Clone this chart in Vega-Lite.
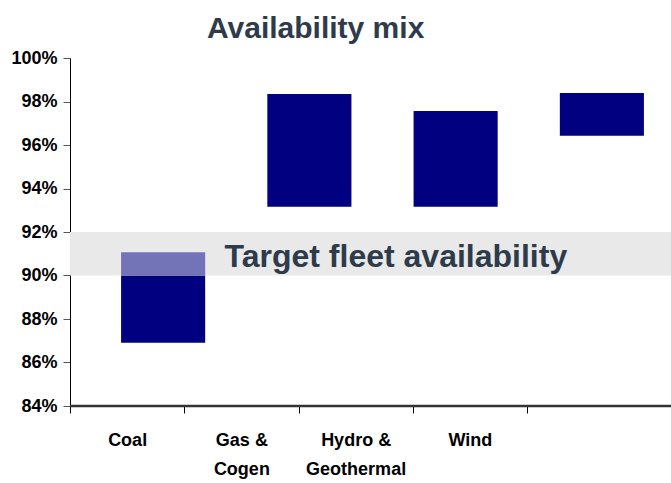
{
  "$schema": "https://vega.github.io/schema/vega-lite/v6.json",
  "width": 601,
  "height": 348,
  "autosize": "none",
  "padding": {"left": 70, "top": 58, "right": 0, "bottom": 77},
  "background": "white",
  "config": {"view": {"stroke": null}, "font": "Liberation Sans"},
  "title": {
    "text": "Availability mix",
    "anchor": "start",
    "frame": "group",
    "dx": 137,
    "fontSize": 30,
    "fontWeight": "bold",
    "color": "#2d3b4b",
    "font": "Liberation Sans",
    "baseline": "alphabetic",
    "offset": -19
  },
  "datasets": {
    "mix": [
      {"source": "Coal", "segment": "Achieved", "low": 0.8691, "high": 0.90},
      {"source": "Coal", "segment": "Upside", "low": 0.90, "high": 0.9107},
      {"source": "Gas & Cogen", "segment": "Achieved", "low": 0.9316, "high": 0.9834},
      {"source": "Hydro & Geothermal", "segment": "Achieved", "low": 0.9316, "high": 0.9756},
      {"source": "Wind", "segment": "Achieved", "low": 0.9643, "high": 0.9839}
    ],
    "target": [
      {"label": "Target fleet availability", "low": 0.90, "high": 0.92, "mid": 0.91}
    ]
  },
  "layer": [
    {
      "layer": [
        {
          "data": {"name": "target"},
          "mark": {"type": "rect", "color": "#e9e9e9"},
          "encoding": {
            "y": {
              "field": "low",
              "type": "quantitative",
              "scale": {"domain": [0.84, 1.0], "nice": false, "zero": false},
              "axis": {
                "title": null,
                "format": ".0%",
                "values": [0.84, 0.86, 0.88, 0.90, 0.92, 0.94, 0.96, 0.98, 1.0],
                "grid": false,
                "labelFont": "Liberation Sans",
                "labelFontSize": 18,
                "labelFontWeight": "bold",
                "labelColor": "black",
                "labelPadding": 6,
                "labelOverlap": false,
                "tickSize": 7,
                "tickColor": "#555555",
                "domainColor": "black"
              }
            },
            "y2": {"field": "high"}
          }
        },
        {
          "data": {"name": "mix"},
          "mark": {"type": "bar", "width": {"band": 0.575}},
          "encoding": {
            "x": {
              "field": "source",
              "type": "nominal",
              "sort": null,
              "scale": {
                "domain": ["Coal", "Gas & Cogen", "Hydro & Geothermal", "Wind"],
                "range": [20, 605],
                "paddingInner": 0,
                "paddingOuter": 0
              },
              "axis": null
            },
            "y": {"field": "low", "type": "quantitative"},
            "y2": {"field": "high"},
            "color": {
              "field": "segment",
              "type": "nominal",
              "scale": {"domain": ["Achieved", "Upside"], "range": ["#000080", "#7373b8"]},
              "legend": null
            }
          }
        },
        {
          "data": {"name": "target"},
          "mark": {
            "type": "text",
            "align": "left",
            "baseline": "middle",
            "dy": 3,
            "font": "Liberation Sans",
            "fontSize": 32,
            "fontWeight": "bold",
            "color": "#2d3b4b"
          },
          "encoding": {
            "x": {"datum": "Coal", "bandPosition": 0.92},
            "y": {"field": "mid", "type": "quantitative"},
            "text": {"field": "label"}
          }
        },
        {
          "data": {"values": [{}]},
          "mark": {"type": "rule", "color": "#333333", "strokeWidth": 2.5},
          "encoding": {"y": {"datum": 0.84}}
        }
      ]
    },
    {
      "data": {"name": "mix"},
      "mark": {"type": "tick", "opacity": 0},
      "encoding": {
        "x": {
          "field": "source",
          "type": "nominal",
          "sort": null,
          "scale": {
            "domain": ["Coal", "Gas & Cogen", "Hydro & Geothermal", "Wind"],
            "range": [0, 457],
            "paddingInner": 0,
            "paddingOuter": 0
          },
          "axis": {
            "orient": "bottom",
            "title": null,
            "domain": false,
            "tickBand": "extent",
            "tickSize": 7,
            "tickColor": "black",
            "labelAngle": 0,
            "labelFont": "Liberation Sans",
            "labelFontSize": 18,
            "labelFontWeight": "bold",
            "labelColor": "black",
            "labelPadding": 18,
            "labelLineHeight": 29,
            "labelLimit": 200,
            "labelExpr": "isValid(datum.value) ? split(replace(datum.value, '& ', '&|'), '|') : ''"
          }
        }
      }
    }
  ],
  "resolve": {"scale": {"x": "independent"}}
}
